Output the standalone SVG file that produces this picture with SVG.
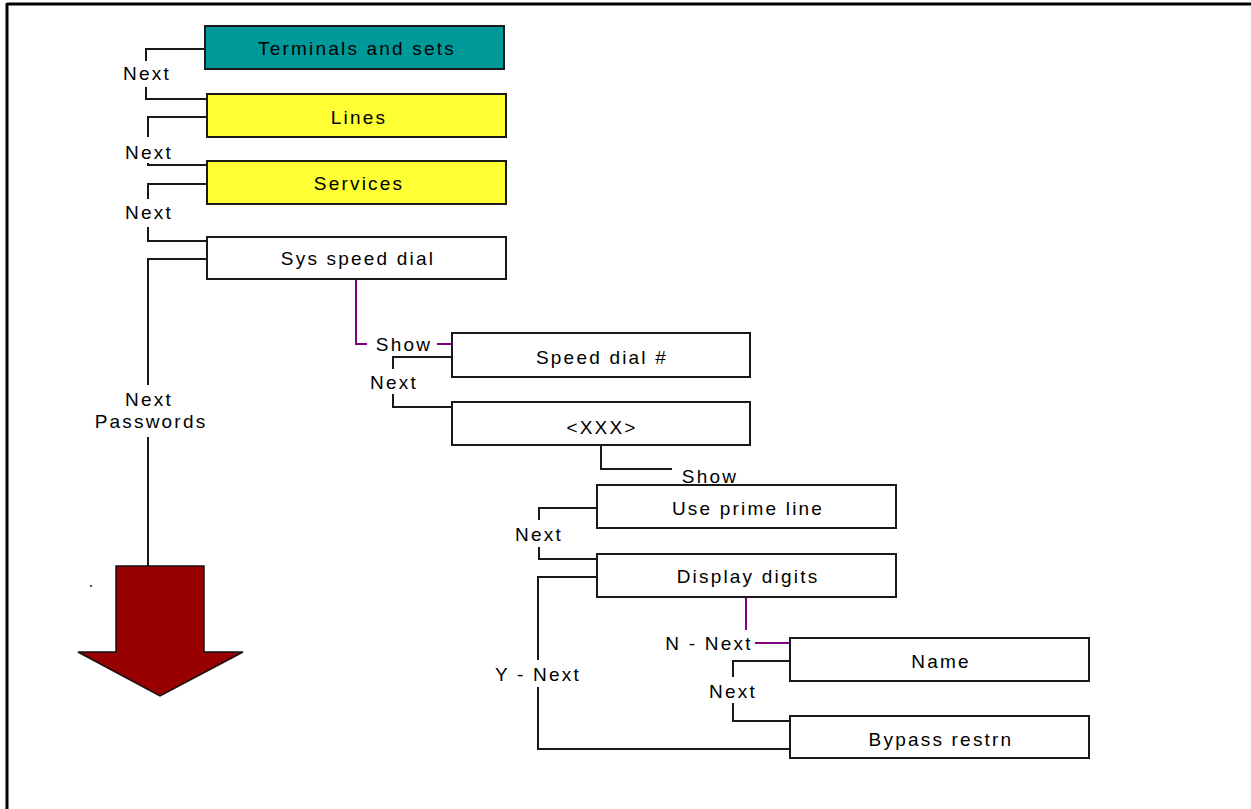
<svg xmlns="http://www.w3.org/2000/svg" width="1251" height="809" viewBox="0 0 1251 809">
<style>
.box{stroke:#1a1a1a;stroke-width:2}
.w{fill:#ffffff}
.t{font-family:"Liberation Sans",Arial,sans-serif;font-size:19px;letter-spacing:2.2px;fill:#000;text-anchor:middle}
.c{fill:none;stroke:#1a1a1a;stroke-width:2}
.p{fill:none;stroke:#800080;stroke-width:2}
</style>
<rect x="0" y="0" width="1251" height="809" fill="#ffffff"/>
<g id="frame">
<line x1="7" y1="4" x2="1251" y2="4" stroke="#000" stroke-width="3"/>
<line x1="7" y1="3" x2="7" y2="809" stroke="#000" stroke-width="3"/>
</g>
<g id="connectors">
<polyline class="c" points="205,49 146,49 146,61"/>
<polyline class="c" points="146,87 146,99 207,99"/>
<polyline class="c" points="207,117 148,117 148,137"/>
<polyline class="c" points="148,163 148,165 207,165"/>
<polyline class="c" points="207,184 148,184 148,199"/>
<polyline class="c" points="148,227 148,241 207,241"/>
<polyline class="c" points="207,259 148,259 148,385"/>
<polyline class="c" points="148,437 148,566"/>
<polyline class="p" points="356,279 356,344 367,344"/>
<polyline class="p" points="437,344 452,344"/>
<polyline class="c" points="452,357 393,357 393,369"/>
<polyline class="c" points="393,394 393,407 452,407"/>
<polyline class="c" points="601,445 601,469 672,469"/>
<polyline class="c" points="597,508 539,508 539,520"/>
<polyline class="c" points="539,547 539,559 597,559"/>
<polyline class="c" points="597,577 538,577 538,660"/>
<polyline class="c" points="538,687 538,749 790,749"/>
<polyline class="p" points="746,597 746,630"/>
<polyline class="p" points="755,643 790,643"/>
<polyline class="c" points="790,661 733,661 733,677"/>
<polyline class="c" points="733,703 733,721 790,721"/>
</g>
<g id="labels">
<text class="t" x="147" y="80">Next</text>
<text class="t" x="149" y="159">Next</text>
<text class="t" x="149" y="219">Next</text>
<text class="t" x="149" y="406">Next</text>
<text class="t" x="151" y="428">Passwords</text>
<text class="t" x="404" y="351">Show</text>
<text class="t" x="394" y="389">Next</text>
<text class="t" x="710" y="483">Show</text>
<text class="t" x="539" y="541">Next</text>
<text class="t" x="709" y="650">N - Next</text>
<text class="t" x="733" y="698">Next</text>
<text class="t" x="538" y="681">Y - Next</text>
</g>
<g id="terminals">
<rect class="box" x="205" y="26" width="299" height="43" fill="#009999"/>
<text class="t" x="357" y="55">Terminals and sets</text>
</g>
<g id="lines">
<rect class="box" x="207" y="94" width="299" height="43" fill="#ffff33"/>
<text class="t" x="359" y="124">Lines</text>
</g>
<g id="services">
<rect class="box" x="207" y="161" width="299" height="43" fill="#ffff33"/>
<text class="t" x="359" y="190">Services</text>
</g>
<g id="sysspeeddial">
<rect class="box w" x="207" y="237" width="299" height="42"/>
<text class="t" x="358" y="265">Sys speed dial</text>
</g>
<g id="speeddialnum">
<rect class="box w" x="452" y="333" width="298" height="44"/>
<text class="t" x="602" y="364">Speed dial #</text>
</g>
<g id="xxx">
<rect class="box w" x="452" y="402" width="298" height="43"/>
<text class="t" x="602" y="434">&lt;XXX&gt;</text>
</g>
<g id="useprimeline">
<rect class="box w" x="597" y="485" width="299" height="43"/>
<text class="t" x="748" y="515">Use prime line</text>
</g>
<g id="displaydigits">
<rect class="box w" x="597" y="554" width="299" height="43"/>
<text class="t" x="748" y="583">Display digits</text>
</g>
<g id="name">
<rect class="box w" x="790" y="638" width="299" height="43"/>
<text class="t" x="941" y="668">Name</text>
</g>
<g id="bypassrestrn">
<rect class="box w" x="790" y="716" width="299" height="42"/>
<text class="t" x="941" y="746">Bypass restrn</text>
</g>
<g id="arrow">
<polygon points="116,566 204,566 204,652 243,652 160,696 78,652 116,652" fill="#990000" stroke="#111" stroke-width="1.5" stroke-linejoin="miter"/>
<rect x="90" y="585" width="2" height="2" fill="#555"/>
</g>
</svg>
